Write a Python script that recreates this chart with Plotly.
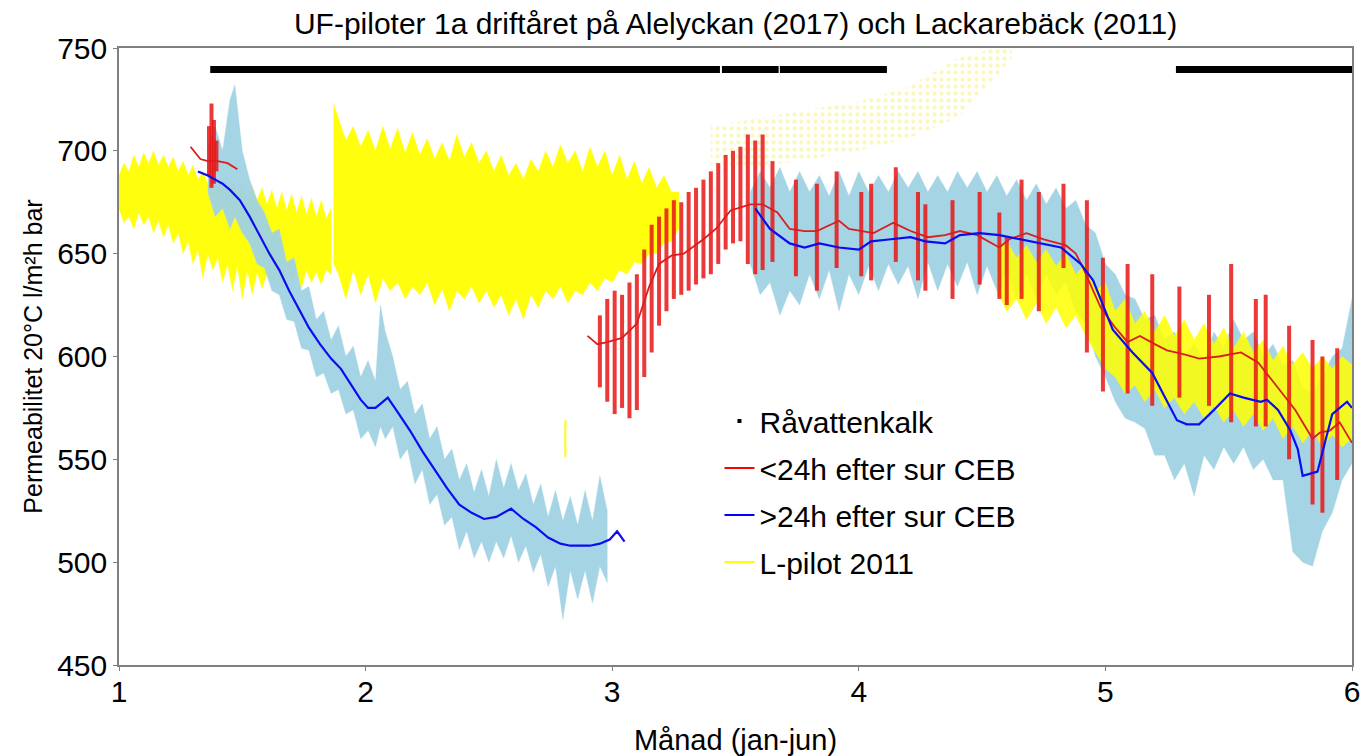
import plotly.graph_objects as go

# ---------------- data ----------------
# Råvattenkalk periods (month start, month end) and level
lime_start = [1.37, 3.445, 3.68, 5.286]
lime_end = [3.437, 3.675, 4.114, 6.0]
lime_level = 739.5

# >24h efter sur CEB, smoothed line (two parts)
blue1_x = [1.32, 1.36, 1.39, 1.42, 1.45, 1.49, 1.53, 1.57, 1.61, 1.65, 1.69, 1.73, 1.77, 1.815, 1.86, 1.90, 1.95, 1.98, 2.01, 2.04, 2.06, 2.09,
           2.13, 2.18, 2.23, 2.28, 2.33, 2.38, 2.43, 2.48, 2.53, 2.59, 2.64, 2.69, 2.74, 2.79, 2.83, 2.87, 2.91, 2.95, 2.99, 3.02, 3.05]
blue1_y = [690, 688, 686, 684, 681, 676, 668, 659, 650, 642, 632, 623, 614, 606, 599, 594, 585, 579, 575, 575, 577, 580,
           573, 564, 554, 545, 536, 528, 524, 521, 522, 526, 521, 517, 512, 509, 508, 508, 508, 509, 511, 515, 510]
blue2_x = [3.58, 3.64, 3.72, 3.78, 3.84, 3.92, 4.00, 4.05, 4.13, 4.21, 4.27, 4.35, 4.41, 4.49, 4.57, 4.65, 4.73, 4.82, 4.90,
           4.95, 5.03, 5.11, 5.19, 5.22, 5.29, 5.33, 5.38, 5.44, 5.505, 5.56, 5.63, 5.655, 5.70, 5.75, 5.78, 5.80, 5.86, 5.92, 5.98, 6.0]
blue2_y = [672, 662, 655, 653, 655, 653, 652, 656, 657, 658, 656, 655, 659, 660, 659, 657, 655, 653, 645,
           637, 613, 602, 592, 585, 569, 567, 567, 574, 582, 580, 578, 579, 574, 564, 555, 542, 544, 572, 578, 575]

# <24h efter sur CEB, smoothed line (two parts)
red1_x = [1.29, 1.31, 1.33, 1.36, 1.40, 1.44, 1.48]
red1_y = [702, 699, 696, 695, 695, 694, 691]
red2_x = [2.90, 2.94, 2.98, 3.04, 3.10, 3.15, 3.19, 3.24, 3.29, 3.37, 3.42, 3.48, 3.56, 3.61, 3.67, 3.72, 3.78, 3.83, 3.92, 3.96,
          4.06, 4.14, 4.21, 4.28, 4.35, 4.41, 4.48, 4.57, 4.61, 4.68, 4.75, 4.84, 4.88, 4.91, 4.98, 5.04, 5.09, 5.14, 5.20, 5.25,
          5.32, 5.38, 5.46, 5.55, 5.62, 5.70, 5.77, 5.84, 5.87, 5.91, 5.95, 6.00]
red2_y = [610, 606, 607, 609, 616, 634, 645, 649, 650, 657, 662, 671, 674, 674, 670, 662, 661, 661, 666, 662,
          660, 665, 661, 658, 659, 661, 659, 653, 657, 660, 657, 654, 650, 643, 624, 614, 607, 610, 606, 603,
          601, 599, 600, 602, 597, 585, 574, 560, 563, 564, 568, 558]

# >24h raw measurements: envelope (upper / lower) of the light-blue cloud
bc1_x = [1.36, 1.39, 1.42, 1.45, 1.47, 1.50, 1.53, 1.56, 1.59, 1.62, 1.65, 1.68, 1.71, 1.74, 1.77, 1.80, 1.83, 1.86, 1.89, 1.92,
         1.95, 1.98, 2.01, 2.04, 2.06, 2.08, 2.11, 2.14, 2.17, 2.20, 2.23, 2.26, 2.29, 2.32, 2.35, 2.38, 2.41, 2.44, 2.47, 2.50,
         2.53, 2.56, 2.59, 2.62, 2.65, 2.68, 2.71, 2.74, 2.77, 2.80, 2.83, 2.86, 2.89, 2.92, 2.95, 2.98]
bc1_hi = [702, 712, 700, 725, 732, 700, 686, 676, 670, 660, 662, 646, 648, 632, 634, 618, 622, 608, 615, 600,
          605, 590, 598, 588, 625, 612, 600, 584, 588, 572, 577, 560, 566, 550, 555, 540, 548, 534, 545, 532,
          550, 536, 548, 535, 543, 528, 538, 522, 535, 520, 532, 518, 535, 520, 542, 525]
bc1_lo = [680, 668, 672, 662, 668, 660, 655, 645, 643, 632, 630, 618, 617, 604, 603, 590, 592, 582, 584, 572,
          574, 560, 564, 556, 566, 560, 566, 550, 555, 538, 545, 528, 533, 518, 522, 506, 515, 502, 510, 500,
          510, 502, 513, 500, 508, 495, 504, 488, 498, 472, 496, 482, 496, 480, 498, 490]
bc2_x = [3.56, 3.60, 3.64, 3.68, 3.72, 3.76, 3.80, 3.84, 3.88, 3.92, 3.96, 4.00, 4.04, 4.08, 4.12, 4.16, 4.20, 4.24, 4.28, 4.32,
         4.36, 4.40, 4.44, 4.48, 4.52, 4.56, 4.60, 4.64, 4.68, 4.72, 4.76, 4.80, 4.84, 4.88, 4.92, 4.96, 5.00, 5.04, 5.08, 5.12,
         5.16, 5.20, 5.24, 5.28, 5.32, 5.36, 5.40, 5.44, 5.48, 5.52, 5.56, 5.60, 5.64, 5.68, 5.72, 5.76, 5.80, 5.84, 5.88, 5.92,
         5.96, 6.00]
bc2_hi = [680, 690, 682, 692, 680, 690, 680, 688, 678, 690, 678, 690, 680, 688, 680, 690, 682, 690, 680, 688,
          680, 690, 682, 690, 680, 688, 678, 686, 676, 684, 674, 682, 672, 676, 664, 660, 645, 640, 630, 628,
          618, 620, 608, 612, 600, 606, 598, 612, 604, 618, 608, 612, 600, 606, 596, 598, 585, 582, 590, 600,
          604, 628]
bc2_lo = [645, 630, 636, 620, 632, 625, 640, 628, 642, 622, 640, 630, 644, 632, 645, 635, 644, 628, 646, 632,
          645, 634, 646, 630, 644, 632, 642, 628, 640, 628, 640, 630, 636, 622, 616, 600, 590, 578, 570, 568,
          565, 552, 552, 540, 548, 532, 552, 545, 556, 548, 556, 545, 550, 540, 540, 505, 500, 498, 515, 524,
          540, 548]

# L-pilot 2011: envelope of the yellow cloud (three parts)
ya_x = [1.00, 1.02, 1.04, 1.06, 1.08, 1.10, 1.12, 1.14, 1.16, 1.18, 1.20, 1.22, 1.24, 1.26, 1.28, 1.30, 1.32, 1.34, 1.36, 1.38,
        1.40, 1.42, 1.44, 1.46, 1.48, 1.50, 1.52, 1.54, 1.56, 1.58, 1.60, 1.62, 1.64, 1.66, 1.68, 1.70, 1.72, 1.74, 1.76, 1.78,
        1.80, 1.82, 1.84, 1.86]
ya_hi = [688, 694, 690, 698, 692, 699, 694, 700, 693, 698, 692, 697, 690, 695, 688, 693, 686, 690, 684, 688,
         682, 687, 680, 686, 679, 684, 677, 683, 676, 682, 674, 681, 672, 680, 671, 679, 670, 678, 669, 677,
         668, 676, 667, 672]
ya_lo = [672, 665, 668, 662, 670, 664, 668, 660, 666, 658, 664, 655, 660, 650, 656, 645, 652, 638, 650, 642,
         648, 636, 645, 632, 644, 628, 642, 630, 641, 633, 640, 634, 640, 632, 641, 636, 640, 633, 642, 636,
         641, 635, 642, 640]
yb_x = [1.87, 1.89, 1.92, 1.95, 1.98, 2.01, 2.04, 2.07, 2.10, 2.13, 2.16, 2.19, 2.22, 2.25, 2.28, 2.31, 2.34, 2.37, 2.40, 2.43,
        2.46, 2.49, 2.52, 2.55, 2.58, 2.61, 2.64, 2.67, 2.70, 2.73, 2.76, 2.79, 2.82, 2.85, 2.88, 2.91, 2.94, 2.97, 3.00, 3.03,
        3.06, 3.09, 3.12, 3.15, 3.18, 3.21, 3.24, 3.27]
yb_hi = [723, 716, 705, 712, 702, 710, 700, 712, 701, 711, 699, 709, 698, 706, 696, 704, 695, 708, 697, 704,
         694, 700, 690, 698, 688, 694, 686, 696, 690, 700, 692, 703, 694, 700, 690, 702, 692, 700, 688, 698,
         686, 695, 684, 692, 682, 688, 680, 680]
yb_lo = [645, 640, 628, 642, 630, 640, 626, 638, 632, 636, 628, 634, 630, 636, 625, 633, 622, 632, 628, 634,
         626, 632, 624, 630, 620, 628, 618, 630, 624, 632, 628, 634, 626, 632, 630, 636, 632, 638, 636, 642,
         640, 646, 645, 650, 650, 655, 656, 662]
yc_x = [4.56, 4.60, 4.64, 4.68, 4.72, 4.76, 4.80, 4.84, 4.88, 4.92, 4.96, 5.00, 5.04, 5.08, 5.12, 5.16, 5.20, 5.24, 5.28, 5.32,
        5.36, 5.40, 5.44, 5.48, 5.52, 5.56, 5.60, 5.64, 5.68, 5.72, 5.76, 5.80, 5.84, 5.88, 5.92, 5.96, 6.00]
yc_hi = [652, 656, 648, 654, 646, 652, 644, 650, 640, 645, 632, 636, 622, 628, 616, 622, 612, 620, 610, 618,
         608, 616, 606, 614, 604, 612, 602, 608, 598, 605, 596, 602, 594, 600, 594, 600, 596]
yc_lo = [632, 622, 628, 618, 626, 616, 624, 614, 620, 610, 602, 594, 590, 582, 586, 578, 584, 575, 580, 572,
         578, 570, 576, 568, 574, 566, 572, 564, 570, 560, 566, 558, 564, 556, 562, 556, 560]
# sparse yellow dots above the band (upper / lower edge)
yd_x = [3.40, 3.70, 4.00, 4.20, 4.40, 4.55, 4.62]
yd_hi = [712, 718, 724, 731, 745, 750, 750]
yd_lo = [690, 694, 700, 706, 716, 735, 745]
# isolated yellow streak
ys_x = [2.81]
ys_lo = [551]
ys_hi = [569]

# <24h raw measurements: individual streaks (month, low, high)
rs_x = [1.365, 1.375, 1.385, 1.395,
        2.95, 2.98, 3.01, 3.04, 3.07, 3.10, 3.13, 3.16, 3.19, 3.22, 3.25, 3.28, 3.31, 3.34, 3.37, 3.40, 3.43, 3.46, 3.49,
        3.52, 3.55, 3.58, 3.61,
        3.65, 3.745, 3.83, 3.91, 4.01, 4.05, 4.15, 4.24, 4.27, 4.38, 4.49, 4.57, 4.60, 4.66, 4.73, 4.83,
        4.925, 4.99, 5.09, 5.19, 5.30, 5.42, 5.51, 5.61, 5.65, 5.745, 5.84, 5.88, 5.94]
rs_lo = [688, 682, 684, 690,
         585, 578, 572, 575, 570, 574, 590, 602, 615, 622, 628, 630, 632, 635, 638, 640, 645, 652, 655,
         656, 645, 640, 642,
         646, 639, 632, 643, 639, 637, 646, 637, 632, 628, 635, 628, 625, 628, 622, 643,
         602, 583, 582, 576, 580, 576, 568, 566, 566, 550, 528, 524, 540]
rs_hi = [712, 723, 715, 705,
         620, 628, 632, 630, 636, 640, 652, 664, 668, 672, 676, 675, 680, 682, 686, 690, 694, 698, 700,
         702, 708, 705, 708,
         695, 686, 684, 690, 680, 684, 692, 680, 674, 676, 680, 670, 658, 686, 680, 684,
         676, 648, 645, 640, 634, 630, 645, 628, 630, 615, 608, 600, 604]

# ---------------- figure ----------------
LBLUE = "rgba(160,210,228,0.95)"
YELLOW = "rgba(255,255,0,0.95)"
RED_C = "rgba(232,22,22,0.85)"
RED_L = "#d81e1e"
BLUE_L = "#0c0cf0"


def band(x, hi, lo):
    return list(x) + list(x[::-1]), list(hi) + list(lo[::-1])


def streaks(x, lo, hi):
    xs, ys = [], []
    for a, b, c in zip(x, lo, hi):
        xs += [a, a, None]
        ys += [b, c, None]
    return xs, ys


fig = go.Figure()

for (x, hi, lo) in [(ya_x, ya_hi, ya_lo), (yb_x, yb_hi, yb_lo)]:
    px, py = band(x, hi, lo)
    fig.add_trace(go.Scatter(x=px, y=py, fill="toself", fillcolor=YELLOW, mode="lines",
                             line=dict(width=0.5, color="rgba(255,255,0,0.6)"), showlegend=False, hoverinfo="skip"))

for (x, hi, lo) in [(bc1_x, bc1_hi, bc1_lo), (bc2_x, bc2_hi, bc2_lo)]:
    px, py = band(x, hi, lo)
    fig.add_trace(go.Scatter(x=px, y=py, fill="toself", fillcolor=LBLUE, mode="lines",
                             line=dict(width=0.5, color="rgba(173,216,230,0.7)"), showlegend=False, hoverinfo="skip"))

px, py = band(yc_x, yc_hi, yc_lo)
fig.add_trace(go.Scatter(x=px, y=py, fill="toself", fillcolor="rgba(255,255,0,0.85)", mode="lines",
                         line=dict(width=0.5, color="rgba(255,255,0,0.6)"), showlegend=False, hoverinfo="skip"))

px, py = band(yd_x, yd_hi, yd_lo)
fig.add_trace(go.Scatter(x=px, y=py, fill="toself", mode="lines", line=dict(width=0),
                         fillcolor="rgba(0,0,0,0)",
                         fillpattern=dict(shape=".", fgcolor="rgba(235,225,0,0.5)", bgcolor="rgba(255,255,255,0)",
                                          size=7, solidity=0.3),
                         showlegend=False, hoverinfo="skip"))

sx, sy = streaks(ys_x, ys_lo, ys_hi)
fig.add_trace(go.Scatter(x=sx, y=sy, mode="lines", line=dict(width=2, color=YELLOW),
                         showlegend=False, hoverinfo="skip"))

sx, sy = streaks(rs_x, rs_lo, rs_hi)
fig.add_trace(go.Scatter(x=sx, y=sy, mode="lines", line=dict(width=4, color=RED_C),
                         showlegend=False, hoverinfo="skip"))

# smoothed lines
for x, y in [(red1_x, red1_y), (red2_x, red2_y)]:
    fig.add_trace(go.Scatter(x=x, y=y, mode="lines", line=dict(width=1.8, color=RED_L),
                             showlegend=False, hoverinfo="skip"))
for x, y in [(blue1_x, blue1_y), (blue2_x, blue2_y)]:
    fig.add_trace(go.Scatter(x=x, y=y, mode="lines", line=dict(width=2.2, color=BLUE_L),
                             showlegend=False, hoverinfo="skip"))

# Råvattenkalk bar
lx, ly = [], []
for a, b in zip(lime_start, lime_end):
    lx += [a, b, None]
    ly += [lime_level, lime_level, None]
fig.add_trace(go.Scatter(x=lx, y=ly, mode="lines", line=dict(width=7, color="black"),
                         showlegend=False, hoverinfo="skip"))

# legend entries
fig.add_trace(go.Scatter(x=[None], y=[None], mode="markers", name="Råvattenkalk", legendgroup="a",
                         marker=dict(symbol="square", size=4, color="black")))
fig.add_trace(go.Scatter(x=[None], y=[None], mode="lines", name="<24h efter sur CEB", legendgroup="b",
                         line=dict(width=2, color="red")))
fig.add_trace(go.Scatter(x=[None], y=[None], mode="lines", name=">24h efter sur CEB", legendgroup="c",
                         line=dict(width=2, color="blue")))
fig.add_trace(go.Scatter(x=[None], y=[None], mode="lines", name="L-pilot 2011", legendgroup="d",
                         line=dict(width=2, color="yellow")))

AX = "#808080"
fig.update_layout(
    width=1371, height=756,
    margin=dict(l=119, r=19, t=48, b=91, autoexpand=False),
    paper_bgcolor="white", plot_bgcolor="white",
    font=dict(family="Liberation Sans, Arial, sans-serif", color="black", size=30),
    title=dict(text="UF-piloter 1a driftåret på Alelyckan (2017) och Lackarebäck (2011)",
               x=0.5365, xanchor="center", y=1 - 23 / 756, yanchor="middle", yref="container",
               font=dict(size=30), automargin=False),
    showlegend=True,
    legend=dict(x=0.487, y=0.4376, xanchor="left", yanchor="top", bgcolor="rgba(0,0,0,0)",
                font=dict(size=30), itemwidth=30, tracegroupgap=5),
    xaxis=dict(range=[1, 6], tickvals=[1, 2, 3, 4, 5, 6], showgrid=False, zeroline=False,
               showline=True, linecolor=AX, linewidth=1.5, mirror=True, automargin=False,
               ticks="outside", ticklen=4, tickcolor=AX, ticklabelstandoff=-5, tickfont=dict(size=30),
               title=dict(text="Månad (jan-jun)", standoff=23, font=dict(size=29))),
    yaxis=dict(range=[450, 750], tickvals=[450, 500, 550, 600, 650, 700, 750], showgrid=False, zeroline=False,
               showline=True, linecolor=AX, linewidth=1.5, mirror=True, automargin=False,
               ticks="outside", ticklen=4, tickcolor=AX, ticklabelstandoff=0, tickfont=dict(size=30),
               title=dict(text="Permeabilitet 20°C l/m²h bar", standoff=7, font=dict(size=25))),
)

fig.write_html("out.html", config={"displayModeBar": False},
               post_script="document.body.style.margin='0px';")
